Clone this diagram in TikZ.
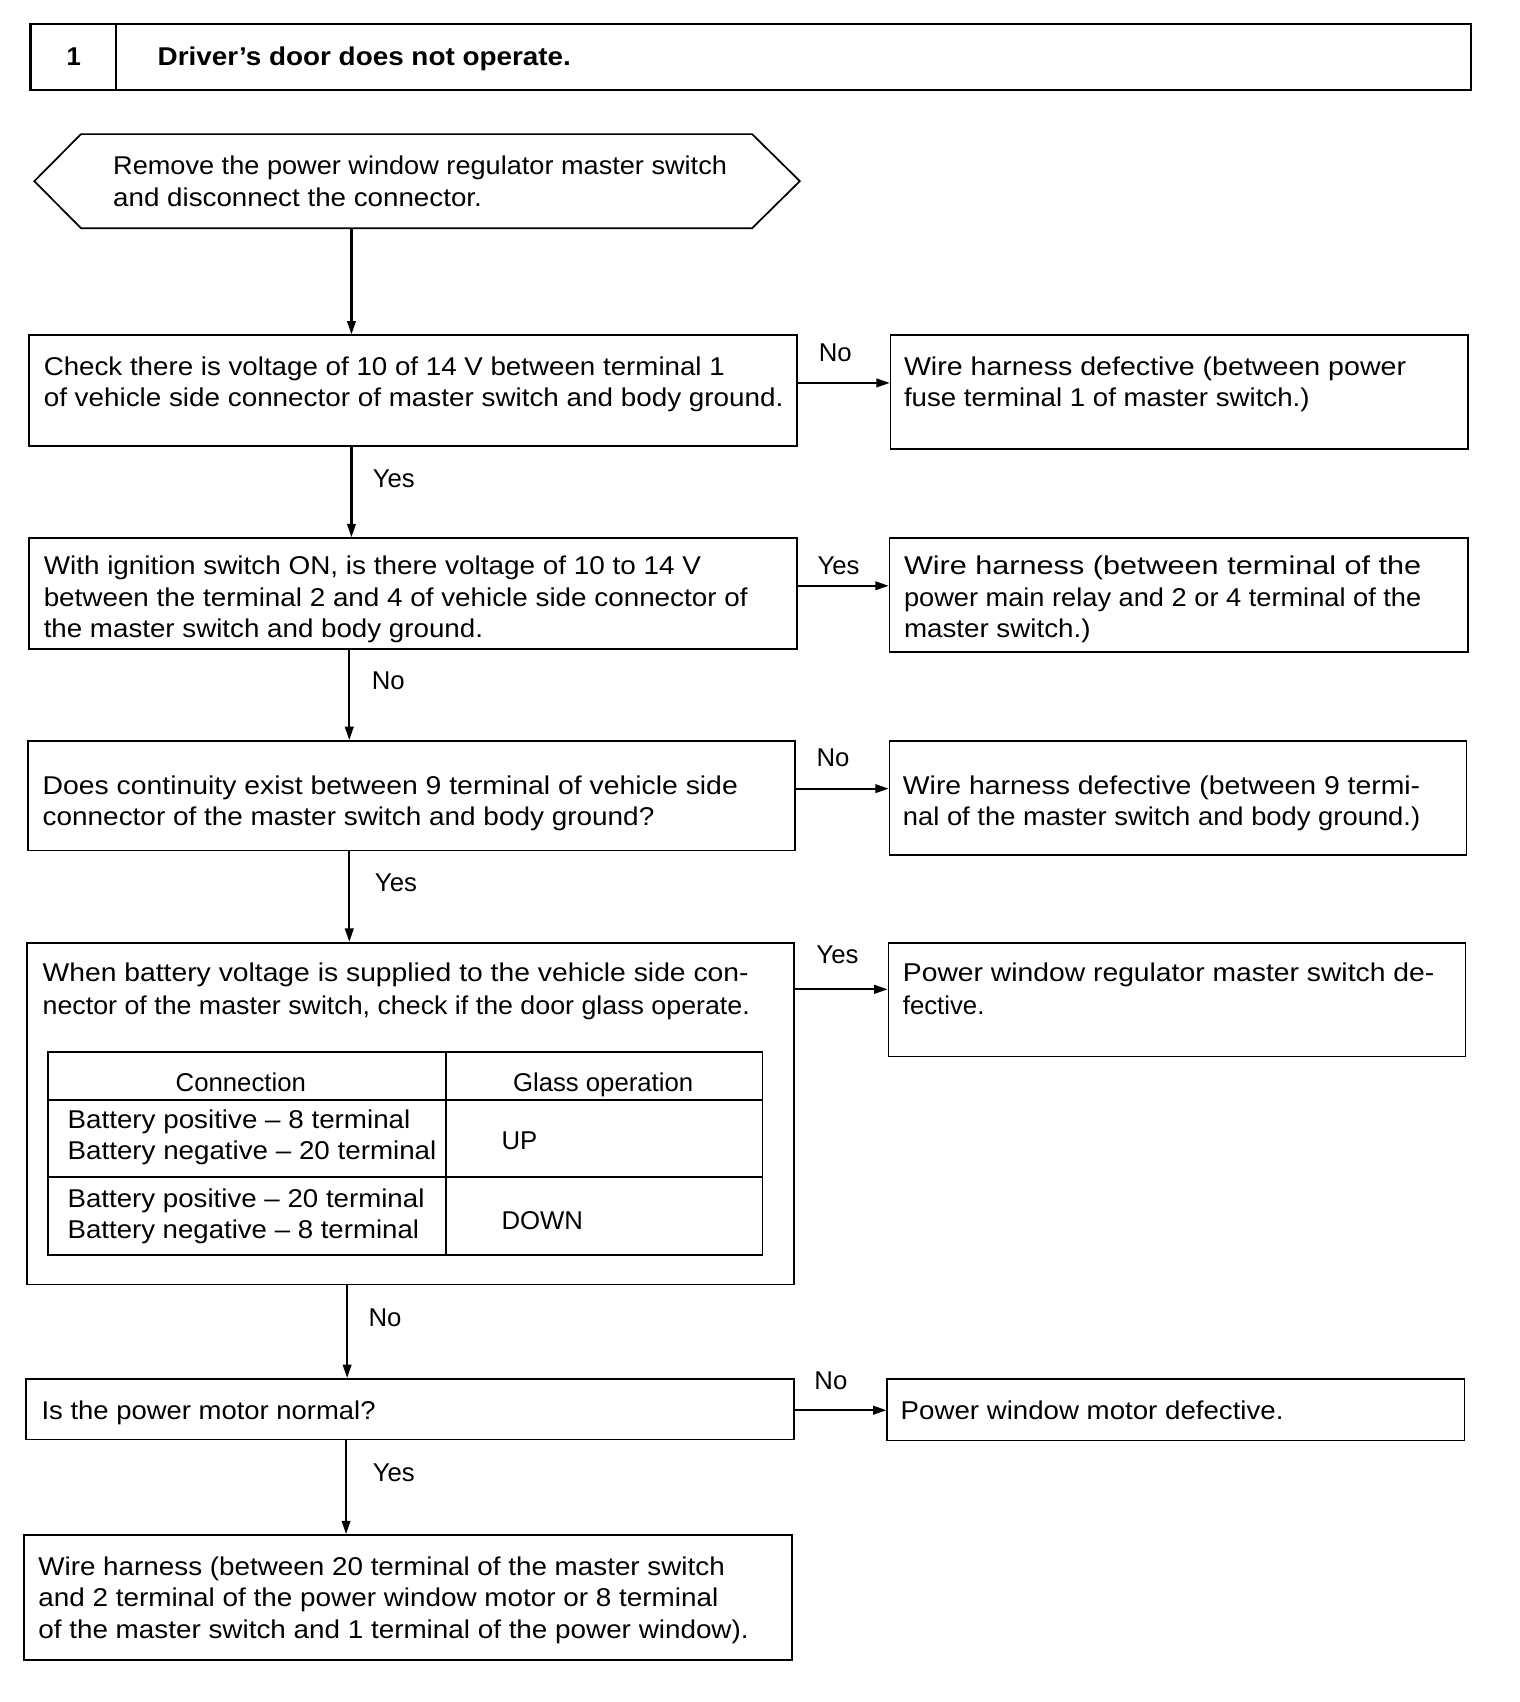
\documentclass[tikz,border=0pt]{standalone}
\usepackage{fontspec}
\setmainfont{Liberation Sans}
\usepackage{graphicx}
\usetikzlibrary{arrows.meta,fit}
\newlength\pxu \setlength\pxu{0.2mm}
\newcommand\rl[2]{\resizebox{#1\pxu}{\height}{#2}}
\tikzset{
 box/.style={draw, line width=0.9pt, inner sep=0pt},
 txt/.style={anchor=base west, inner sep=0pt, font=\fontsize{13.5}{16}\selectfont},
 lbl/.style={anchor=base, inner sep=0pt, font=\fontsize{13.5}{16}\selectfont},
 arr/.style={line width=1.1pt, -{Triangle[length=7pt,width=4.5pt]}},
 tline/.style={line width=0.9pt},
}
\begin{document}
\begin{tikzpicture}[x=0.02cm,y=-0.02cm]
\useasboundingbox (0,0) rectangle (1401,1569);
% header
\node[box, line width=1.3pt, fit={(28,22) (1356,83)}] (hdr) {};
\draw[line width=1.1pt] (107,22) -- (107,83);
\node[lbl] (hnum) at (68,60) {\textbf{1}};
\node[txt] (htitle) at (145,60) {\rl{381}{\textbf{Driver’s door does not operate.}}};
% hexagon
\node[inner sep=0pt, fit={(75,124) (693,210)}] (hex) {};
\draw[line width=0.9pt] (hex.north west) -- (hex.north east) -- ([xshift=0.88cm]hex.east) -- (hex.south east) -- (hex.south west) -- ([xshift=-0.86cm]hex.west) -- cycle;
\node[txt] (hexa) at (104,161) {\rl{566}{Remove the power window regulator master switch}};
\node[txt] (hexb) at (104,190) {\rl{340}{and disconnect the connector.}};
% box 1
\node[box, fit={(27,309) (735,411)}] (b1) {};
\node[txt] (b1a) at (40,346) {\rl{628}{Check there is voltage of 10 of 14 V between terminal 1}};
\node[txt] (b1b) at (40,375) {\rl{682}{of vehicle side connector of master switch and body ground.}};
\node[box, fit={(821,309) (1353,414)}] (r1) {};
\node[txt] (r1a) at (833,346) {\rl{463}{Wire harness defective (between power}};
\node[txt] (r1b) at (833,375) {\rl{374}{fuse terminal 1 of master switch.)}};
% box 2
\node[box, fit={(27,496) (735,598)}] (b2) {};
\node[txt] (b2a) at (40,530) {\rl{606}{With ignition switch ON, is there voltage of 10 to 14 V}};
\node[txt] (b2b) at (40,559) {\rl{649}{between the terminal 2 and 4 of vehicle side connector of}};
\node[txt] (b2c) at (40,588) {\rl{405}{the master switch and body ground.}};
\node[box, fit={(820,496) (1353,601)}] (r2) {};
\node[txt] (r2a) at (833,530) {\rl{477}{Wire harness (between terminal of the}};
\node[txt] (r2b) at (833,559) {\rl{477}{power main relay and 2 or 4 terminal of the}};
\node[txt] (r2c) at (833,588) {\rl{172}{master switch.)}};
% box 3
\node[box, fit={(26,683) (733,784)}] (b3) {};
\node[txt] (b3a) at (39,732) {\rl{641}{Does continuity exist between 9 terminal of vehicle side}};
\node[txt] (b3b) at (39,761) {\rl{564}{connector of the master switch and body ground?}};
\node[box, fit={(820,683) (1352,788)}] (r3) {};
\node[txt] (r3a) at (832,732) {\rl{477}{Wire harness defective (between 9 termi-}};
\node[txt] (r3b) at (832,761) {\rl{477}{nal of the master switch and body ground.)}};
% box 4
\node[box, fit={(25,869) (732,1184)}] (b4) {};
\node[txt] (b4a) at (39,905) {\rl{651}{When battery voltage is supplied to the vehicle side con-}};
\node[txt] (b4b) at (39,935) {\rl{652}{nector of the master switch, check if the door glass operate.}};
\node[box, fit={(44,970) (703,1157)}] (tbl) {};
\draw[tline] (44,1014) -- (703,1014);
\draw[tline] (44,1085) -- (703,1085);
\draw[tline] (411,970) -- (411,1157);
\node[lbl] (th1) at (222,1006) {Connection};
\node[lbl] (th2) at (556,1006) {Glass operation};
\node[txt] (t1a) at (62,1040) {\rl{316}{Battery positive – 8 terminal}};
\node[txt] (t1b) at (62,1069) {\rl{340}{Battery negative – 20 terminal}};
\node[txt] (t1c) at (462,1060) {UP};
\node[txt] (t2a) at (62,1113) {\rl{329}{Battery positive – 20 terminal}};
\node[txt] (t2b) at (62,1142) {\rl{324}{Battery negative – 8 terminal}};
\node[txt] (t2c) at (462,1133) {DOWN};
\node[box, fit={(819,869) (1351,974)}] (r4) {};
\node[txt] (r4a) at (832,905) {\rl{490}{Power window regulator master switch de-}};
\node[txt] (r4b) at (832,935) {fective.};
% box 5
\node[box, fit={(24,1271) (732,1327)}] (b5) {};
\node[txt] (b5a) at (38,1309) {\rl{308}{Is the power motor normal?}};
\node[box, fit={(818,1271) (1350,1328)}] (r5) {};
\node[txt] (r5a) at (830,1309) {\rl{353}{Power window motor defective.}};
% box 6
\node[box, fit={(22,1415) (730,1530)}] (b6) {};
\node[txt] (b6a) at (35,1452) {\rl{633}{Wire harness (between 20 terminal of the master switch}};
\node[txt] (b6b) at (35,1481) {\rl{627}{and 2 terminal of the power window motor or 8 terminal}};
\node[txt] (b6c) at (35,1510) {\rl{655}{of the master switch and 1 terminal of the power window).}};
% coordinates for connectors
\coordinate (xa) at (324,0);
\coordinate (xb) at (322,0);
\coordinate (xc) at (320,0);
\coordinate (xd) at (319,0);
\coordinate (ya) at (0,353);
\coordinate (yb) at (0,540);
\coordinate (yc) at (0,727);
\coordinate (yd) at (0,912);
\coordinate (ye) at (0,1300);
% connectors
\draw[arr] (hex.south -| xa) -- (b1.north -| xa);
\draw[arr] (b1.south -| xa) -- (b2.north -| xa);
\draw[arr] (b2.south -| xb) -- (b3.north -| xb);
\draw[arr] (b3.south -| xb) -- (b4.north -| xb);
\draw[arr] (b4.south -| xc) -- (b5.north -| xc);
\draw[arr] (b5.south -| xd) -- (b6.north -| xd);
\draw[arr] (b1.east |- ya) -- (r1.west |- ya);
\draw[arr] (b2.east |- yb) -- (r2.west |- yb);
\draw[arr] (b3.east |- yc) -- (r3.west |- yc);
\draw[arr] (b4.east |- yd) -- (r4.west |- yd);
\draw[arr] (b5.east |- ye) -- (r5.west |- ye);
% labels
\node[lbl] (l1) at (770,333) {No};
\node[lbl] (l2) at (363,449) {Yes};
\node[lbl] (l3) at (773,530) {Yes};
\node[lbl] (l4) at (358,636) {No};
\node[lbl] (l5) at (768,707) {No};
\node[lbl] (l6) at (365,822) {Yes};
\node[lbl] (l7) at (772,888) {Yes};
\node[lbl] (l8) at (355,1223) {No};
\node[lbl] (l9) at (766,1281) {No};
\node[lbl] (l10) at (363,1366) {Yes};
\end{tikzpicture}
\end{document}
